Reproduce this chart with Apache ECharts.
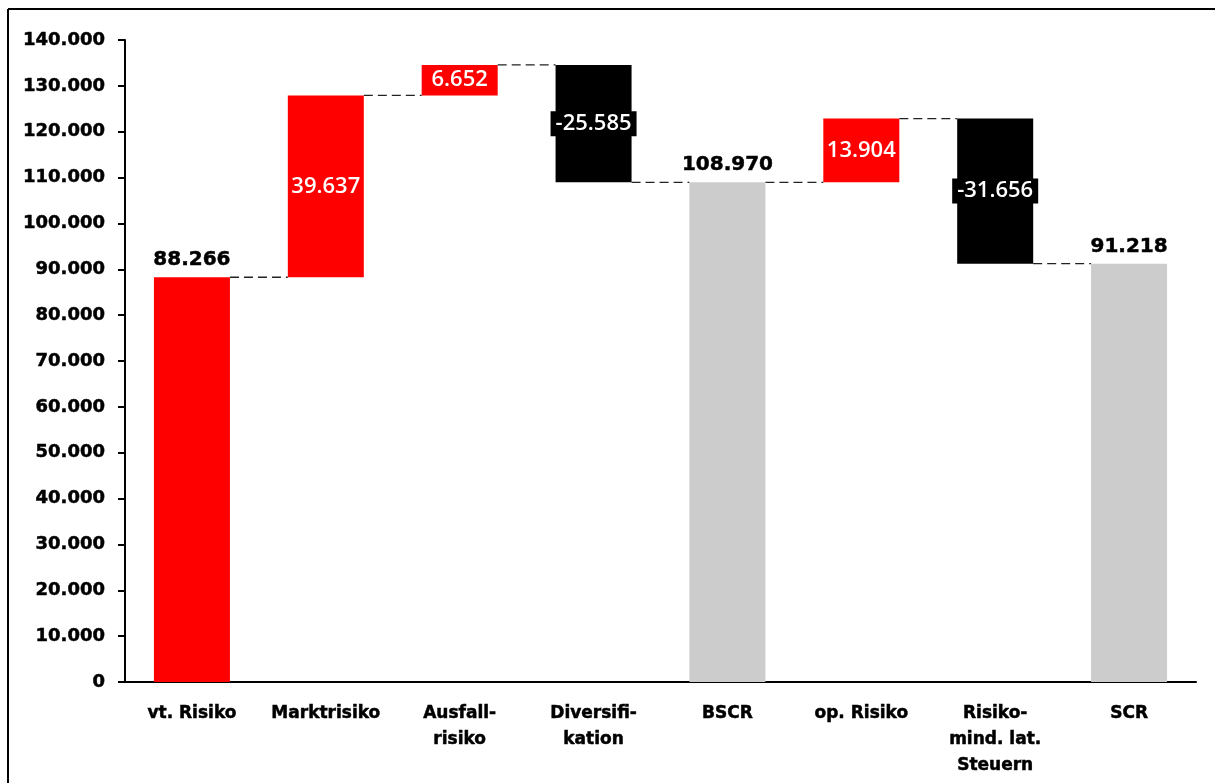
<!DOCTYPE html>
<html>
<head>
<meta charset="utf-8">
<script src="https://cdn.jsdelivr.net/npm/echarts@6/dist/echarts.min.js"></script>
<style>
html,body{margin:0;padding:0;background:#fff;}
#c{width:1215px;height:783px;}
</style>
</head>
<body>
<div id="c"></div>
<script>
const categories = ['vt. Risiko', 'Marktrisiko', 'Ausfall-\nrisiko', 'Diversifi-\nkation', 'BSCR', 'op. Risiko', 'Risiko-\nmind. lat.\nSteuern', 'SCR'];
const values = [88266, 39637, 6652, -25585, 108970, 13904, -31656, 91218];
const kinds = ['start', 'delta', 'delta', 'delta', 'total', 'delta', 'delta', 'total'];
const yTicks = [0, 10000, 20000, 30000, 40000, 50000, 60000, 70000, 80000, 90000, 100000, 110000, 120000, 130000, 140000];

function fmt(v) {
  const s = Math.abs(v).toString().replace(/\B(?=(\d{3})+(?!\d))/g, '.');
  return (v < 0 ? '-' : '') + s;
}

// derive waterfall base / height / running level from values
const base = [], height = [], level = [];
let run = 0;
values.forEach((v, i) => {
  if (kinds[i] !== 'delta') { base.push(0); height.push(v); run = v; }
  else if (v >= 0) { base.push(run); height.push(v); run += v; }
  else { base.push(run + v); height.push(-v); run += v; }
  level.push(run);
});

const colors = values.map((v, i) => kinds[i] === 'total' ? '#cccccc' : (v >= 0 ? '#ff0000' : '#000000'));

const chart = echarts.init(document.getElementById('c'));
const barW = 76;
const boldText = { color: '#000', fontWeight: 'bold', fontFamily: 'DejaVu Sans', textBorderColor: '#000', textBorderWidth: 0.5 };

const option = {
  animation: false,
  backgroundColor: '#ffffff',
  grid: { left: 125, right: 19, top: 40, bottom: 101, containLabel: false },
  xAxis: {
    type: 'category',
    data: categories,
    axisLine: { lineStyle: { color: '#000', width: 2 } },
    axisTick: { show: false },
    axisLabel: Object.assign({}, boldText, {
      fontSize: 17, margin: 19, lineHeight: 26, interval: 0
    })
  },
  yAxis: {
    type: 'value',
    min: 0, max: 140000, interval: 10000,
    splitLine: { show: false },
    axisLine: { show: true, lineStyle: { color: '#000', width: 2 } },
    axisTick: { show: true, length: 7, lineStyle: { color: '#000', width: 2 } },
    axisLabel: Object.assign({}, boldText, {
      fontSize: 18, margin: 20, formatter: v => fmt(v)
    })
  },
  series: [
    {
      type: 'bar', stack: 'w', barWidth: barW,
      itemStyle: { color: 'transparent' },
      data: base, silent: true
    },
    {
      type: 'bar', stack: 'w', barWidth: barW,
      data: height.map((h, i) => {
        const d = { value: h, itemStyle: { color: colors[i] } };
        if (kinds[i] !== 'delta') {
          d.label = Object.assign({}, boldText, {
            show: true, position: 'top', distance: 7, fontSize: 20,
            formatter: () => fmt(values[i])
          });
        } else {
          d.label = {
            show: true, position: 'inside', color: '#fff',
            fontFamily: 'Open Sans', fontSize: 22, fontWeight: 600,
            formatter: () => fmt(values[i]),
            backgroundColor: values[i] < 0 ? '#000' : 'transparent',
            padding: values[i] < 0 ? [2, 5, 1, 5] : 0
          };
        }
        return d;
      })
    },
    {
      type: 'custom',
      data: level.slice(0, -1).map((l, i) => [i, l]),
      renderItem: function (params, api) {
        const i = api.value(0);
        const p1 = api.coord([i, api.value(1)]);
        const p2 = api.coord([i + 1, api.value(1)]);
        const half = barW / 2;
        return {
          type: 'line',
          shape: { x1: p1[0] + half, y1: p1[1], x2: p2[0] - half, y2: p2[1] },
          style: { stroke: '#222', lineWidth: 1.3, lineDash: [9, 5] }
        };
      },
      silent: true, z: 1
    }
  ],
  graphic: [
    { type: 'line', shape: { x1: 8, y1: 9, x2: 1215, y2: 9 }, style: { stroke: '#000', lineWidth: 2 } },
    { type: 'line', shape: { x1: 8, y1: 9, x2: 8, y2: 783 }, style: { stroke: '#000', lineWidth: 2 } }
  ]
};
chart.setOption(option);
</script>
</body>
</html>
